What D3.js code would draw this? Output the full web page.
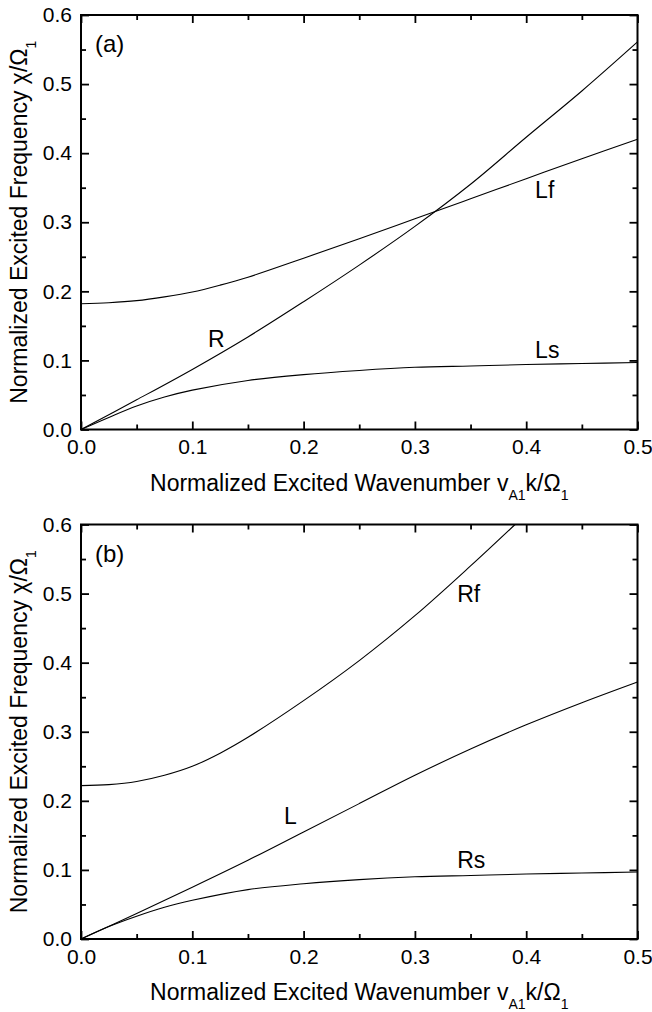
<!DOCTYPE html>
<html>
<head>
<meta charset="utf-8">
<script src="https://cdn.jsdelivr.net/npm/d3@7"></script>
<style>
  html, body { margin: 0; padding: 0; background: #fff; }
  svg { display: block; }
  text { font-family: "Liberation Sans", Arial, Helvetica, sans-serif; fill: #000; }
</style>
</head>
<body>
<script>
// ---------- data ----------
const xTicks = [0.0, 0.1, 0.2, 0.3, 0.4, 0.5];
const xMinor = [0.05, 0.15, 0.25, 0.35, 0.45];
const yTicks = [0.0, 0.1, 0.2, 0.3, 0.4, 0.5, 0.6];
const yMinor = [0.05, 0.15, 0.25, 0.35, 0.45, 0.55];

// Panel (a)
const aR_k  = [0, 0.05, 0.1, 0.15, 0.2, 0.25, 0.3, 0.35, 0.4, 0.45, 0.5];
const aR_f  = [0, 0.043, 0.087, 0.134, 0.185, 0.238, 0.294, 0.355, 0.423, 0.490, 0.561];
const aLf_k = [0, 0.025, 0.05, 0.075, 0.1, 0.125, 0.15, 0.2, 0.25, 0.3, 0.35, 0.4, 0.45, 0.5];
const aLf_f = [0.182, 0.1835, 0.1865, 0.192, 0.199, 0.209, 0.2205, 0.248, 0.276, 0.305, 0.334, 0.363, 0.392, 0.420];
const aLs_k = [0, 0.025, 0.05, 0.075, 0.1, 0.15, 0.2, 0.25, 0.3, 0.35, 0.4, 0.45, 0.5];
const aLs_f = [0, 0.0175, 0.034, 0.047, 0.057, 0.071, 0.0795, 0.0855, 0.090, 0.092, 0.094, 0.0955, 0.097];

// Panel (b)
const bRf_k = [0, 0.025, 0.05, 0.075, 0.1, 0.125, 0.15, 0.2, 0.25, 0.3, 0.35, 0.39];
const bRf_f = [0.222, 0.2235, 0.228, 0.237, 0.250, 0.269, 0.292, 0.345, 0.403, 0.468, 0.540, 0.600];
const bL_k  = [0, 0.05, 0.1, 0.15, 0.2, 0.25, 0.3, 0.35, 0.4, 0.45, 0.5];
const bL_f  = [0, 0.037, 0.075, 0.114, 0.155, 0.196, 0.237, 0.275, 0.310, 0.342, 0.372];
const bRs_k = [0, 0.025, 0.05, 0.075, 0.1, 0.15, 0.2, 0.25, 0.3, 0.35, 0.4, 0.45, 0.5];
const bRs_f = [0, 0.018, 0.033, 0.046, 0.056, 0.0715, 0.080, 0.086, 0.090, 0.092, 0.094, 0.0955, 0.097];

// curve labels (data coordinates)
const aLabels = [["R", 0.114, 0.120], ["Lf", 0.408, 0.335], ["Ls", 0.408, 0.103]];
const bLabels = [["L", 0.1824, 0.167], ["Rf", 0.338, 0.488], ["Rs", 0.338, 0.103]];
const panelTags = ["(a)", "(b)"];

// ---------- drawing ----------
const W = 652, H = 1012;
const svg = d3.select("body").append("svg").attr("width", W).attr("height", H);

const left = 81, right = 637.5, plotH = 414.5;
const panelTops = [15, 524.5];

const zip = (ks, fs) => ks.map((k, i) => [k, fs[i]]);

function drawPanel(top, series, labels, tag) {
  const x = d3.scaleLinear().domain([0, 0.5]).range([left, right]);
  const y = d3.scaleLinear().domain([0, 0.6]).range([top + plotH, top]);
  const g = svg.append("g");

  const styleAxis = (sel) => {
    sel.select(".domain").remove();
    sel.selectAll(".tick line").attr("stroke", "#000").attr("stroke-width", 1.8);
    sel.selectAll("text").style("font-size", "21px").style("font-family", '"Liberation Sans", Arial, sans-serif').attr("fill", "#000");
  };

  // bottom
  g.append("g").attr("transform", `translate(0,${top + plotH})`)
    .call(d3.axisBottom(x).tickValues(xTicks).tickSize(-8).tickPadding(10).tickFormat(d3.format(".1f")))
    .call(styleAxis);
  g.append("g").attr("transform", `translate(0,${top + plotH})`)
    .call(d3.axisBottom(x).tickValues(xMinor).tickSize(-5).tickFormat(""))
    .call(styleAxis);
  // top
  g.append("g").attr("transform", `translate(0,${top})`)
    .call(d3.axisTop(x).tickValues(xTicks).tickSize(-8).tickFormat(""))
    .call(styleAxis);
  g.append("g").attr("transform", `translate(0,${top})`)
    .call(d3.axisTop(x).tickValues(xMinor).tickSize(-5).tickFormat(""))
    .call(styleAxis);
  // left
  g.append("g").attr("transform", `translate(${left},0)`)
    .call(d3.axisLeft(y).tickValues(yTicks).tickSize(-8).tickPadding(9).tickFormat(d3.format(".1f")))
    .call(styleAxis);
  g.append("g").attr("transform", `translate(${left},0)`)
    .call(d3.axisLeft(y).tickValues(yMinor).tickSize(-5).tickFormat(""))
    .call(styleAxis);
  // right
  g.append("g").attr("transform", `translate(${right},0)`)
    .call(d3.axisRight(y).tickValues(yTicks).tickSize(-8).tickFormat(""))
    .call(styleAxis);
  g.append("g").attr("transform", `translate(${right},0)`)
    .call(d3.axisRight(y).tickValues(yMinor).tickSize(-5).tickFormat(""))
    .call(styleAxis);

  // frame
  g.append("rect").attr("x", left).attr("y", top).attr("width", right - left).attr("height", plotH)
    .attr("fill", "none").attr("stroke", "#000").attr("stroke-width", 2);

  // curves
  const line = d3.line().x(d => x(d[0])).y(d => y(d[1])).curve(d3.curveCatmullRom.alpha(0.5));
  series.forEach(s => {
    g.append("path").attr("d", line(s)).attr("fill", "none").attr("stroke", "#000").attr("stroke-width", 1.1);
  });

  // curve labels
  labels.forEach(([t, k, f]) => {
    g.append("text").attr("x", x(k)).attr("y", y(f)).style("font-size", "23px").text(t);
  });
  // panel tag
  g.append("text").attr("x", x(0.0126)).attr("y", y(0.546)).style("font-size", "24px").text(tag);

  // x title
  const xt = g.append("text").attr("x", (left + right) / 2).attr("y", top + plotH + 61)
    .attr("text-anchor", "middle").style("font-size", "23px");
  xt.append("tspan").text("Normalized Excited Wavenumber v");
  xt.append("tspan").attr("dy", 9).style("font-size", "14px").text("A1");
  xt.append("tspan").attr("dy", -9).text("k/Ω");
  xt.append("tspan").attr("dy", 9).style("font-size", "14px").text("1");

  // y title
  const yt = g.append("text").attr("transform", `translate(27,${top + plotH / 2}) rotate(-90)`)
    .attr("text-anchor", "middle").style("font-size", "23px");
  yt.append("tspan").text("Normalized Excited Frequency χ/Ω");
  yt.append("tspan").attr("dy", 9).style("font-size", "14px").text("1");
}

drawPanel(panelTops[0], [zip(aR_k, aR_f), zip(aLf_k, aLf_f), zip(aLs_k, aLs_f)], aLabels, panelTags[0]);
drawPanel(panelTops[1], [zip(bRf_k, bRf_f), zip(bL_k, bL_f), zip(bRs_k, bRs_f)], bLabels, panelTags[1]);
</script>
</body>
</html>
